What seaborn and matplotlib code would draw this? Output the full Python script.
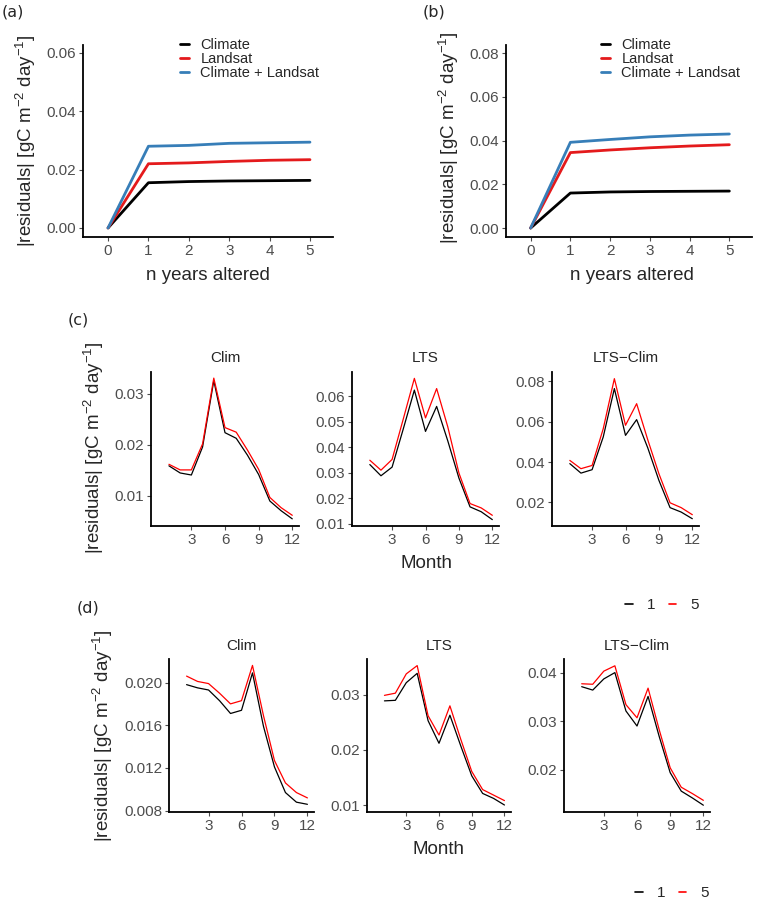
import numpy as np
import pandas as pd
import matplotlib
matplotlib.use('Agg')
import matplotlib.pyplot as plt
from matplotlib.ticker import FormatStrFormatter
import seaborn as sns

# ---- data ----
years = [0, 1, 2, 3, 4, 5]
a_climate = [0.0, 0.0155, 0.0159, 0.0161, 0.0162, 0.0163]
a_landsat = [0.0, 0.0220, 0.0223, 0.0228, 0.0232, 0.0234]
a_both = [0.0, 0.0280, 0.0283, 0.0290, 0.0292, 0.0294]

b_climate = [0.0, 0.0160, 0.0165, 0.0167, 0.0168, 0.0169]
b_landsat = [0.0, 0.0345, 0.0357, 0.0367, 0.0375, 0.0381]
b_both = [0.0, 0.0392, 0.0405, 0.0417, 0.0425, 0.0430]

months = list(range(1, 13))
# panel (c)
c_clim_1 = [0.0159, 0.0145, 0.0141, 0.0196, 0.0326, 0.0224, 0.0213, 0.0180, 0.0142, 0.0090, 0.0071, 0.0055]
c_clim_5 = [0.0162, 0.0151, 0.0151, 0.0202, 0.0331, 0.0234, 0.0225, 0.0190, 0.0152, 0.0097, 0.0077, 0.0062]
c_lts_1 = [0.0332, 0.0288, 0.0322, 0.0471, 0.0624, 0.0462, 0.0560, 0.0425, 0.0279, 0.0166, 0.0147, 0.0116]
c_lts_5 = [0.0349, 0.0310, 0.0352, 0.0510, 0.0670, 0.0515, 0.0630, 0.0480, 0.0299, 0.0179, 0.0162, 0.0133]
c_ltsclim_1 = [0.0392, 0.0345, 0.0362, 0.0524, 0.0764, 0.0532, 0.0610, 0.0470, 0.0309, 0.0174, 0.0152, 0.0119]
c_ltsclim_5 = [0.0408, 0.0367, 0.0383, 0.0565, 0.0813, 0.0582, 0.0689, 0.0510, 0.0342, 0.0198, 0.0174, 0.0139]
# panel (d)
d_clim_1 = [0.0198, 0.0195, 0.0193, 0.0183, 0.0171, 0.0174, 0.0209, 0.0159, 0.0121, 0.0097, 0.0088, 0.0086]
d_clim_5 = [0.0206, 0.0201, 0.0199, 0.0190, 0.0180, 0.0183, 0.0216, 0.0169, 0.0127, 0.0106, 0.0097, 0.0092]
d_lts_1 = [0.0289, 0.0290, 0.0322, 0.0339, 0.0253, 0.0212, 0.0263, 0.0207, 0.0153, 0.0121, 0.0112, 0.0100]
d_lts_5 = [0.0299, 0.0303, 0.0338, 0.0353, 0.0262, 0.0227, 0.0280, 0.0219, 0.0161, 0.0128, 0.0118, 0.0108]
d_ltsclim_1 = [0.0371, 0.0364, 0.0387, 0.0400, 0.0321, 0.0290, 0.0351, 0.0269, 0.0194, 0.0156, 0.0142, 0.0127]
d_ltsclim_5 = [0.0377, 0.0376, 0.0403, 0.0414, 0.0334, 0.0307, 0.0368, 0.0283, 0.0204, 0.0164, 0.0151, 0.0137]

models = ['Climate', 'Landsat', 'Climate + Landsat']
model_colors = {'Climate': 'black', 'Landsat': '#E41A1C', 'Climate + Landsat': '#377EB8'}
yr_colors = {'1': 'black', '5': 'red'}

W, H = 759, 901
sns.set_style('ticks')
plt.rcParams['font.family'] = ['Liberation Sans', 'DejaVu Sans']
plt.rcParams['mathtext.fontset'] = 'custom'
plt.rcParams['mathtext.rm'] = 'Liberation Sans'
plt.rcParams['mathtext.default'] = 'regular'

fig = plt.figure(figsize=(W / 100, H / 100), dpi=100)

def px_axes(l, t, r, b):
    return fig.add_axes([l / W, 1 - b / H, (r - l) / W, (b - t) / H])

def fx(x):
    return x / W

def fy(y):
    return 1 - y / H

def style_axes(ax, lw=1.3, size=11):
    sns.despine(ax=ax)
    for s in ['left', 'bottom']:
        ax.spines[s].set_linewidth(lw)
        ax.spines[s].set_color('black')
    ax.tick_params(axis='both', colors='#4D4D4D', labelsize=size, length=3, width=0.8, pad=2)
    ax.set_xlabel('')
    ax.set_ylabel('')

ylab = r'|residuals| [gC m$^{-2}$ day$^{-1}$]'

# ---- panels (a) and (b) ----
def years_panel(box, series, yticks, ylim, leg_x):
    ax = px_axes(*box)
    df = pd.DataFrame({
        'years': years * 3,
        'value': series[0] + series[1] + series[2],
        'model': sum([[m] * len(years) for m in models], []),
    })
    sns.lineplot(data=df, x='years', y='value', hue='model', hue_order=models,
                 palette=model_colors, linewidth=2, ax=ax)
    style_axes(ax, size=11)
    ax.set_xlim(-0.62, 5.57)
    ax.set_ylim(*ylim)
    ax.set_xticks(years)
    ax.set_yticks(yticks)
    ax.yaxis.set_major_formatter(FormatStrFormatter('%.2f'))
    h, l = ax.get_legend_handles_labels()
    ax.legend(h, l, loc='upper left', bbox_to_anchor=(fx(leg_x), fy(38)),
              bbox_transform=fig.transFigure, frameon=False, fontsize=10.5,
              handlelength=0.6, handletextpad=0.8, labelspacing=0.0,
              borderpad=0, borderaxespad=0)
    return ax

years_panel((83, 45, 333, 237), [a_climate, a_landsat, a_both],
            [0, 0.02, 0.04, 0.06], (-0.0031, 0.0627), 180)
years_panel((506, 45, 752, 237), [b_climate, b_landsat, b_both],
            [0, 0.02, 0.04, 0.06, 0.08], (-0.0041, 0.0837), 601)

fig.text(fx(26), fy(141), ylab, rotation=90, ha='center', va='center', fontsize=13.5)
fig.text(fx(449), fy(138), ylab, rotation=90, ha='center', va='center', fontsize=13.5)
fig.text(fx(208), fy(275), 'n years altered', ha='center', va='center', fontsize=13.5)
fig.text(fx(632), fy(275), 'n years altered', ha='center', va='center', fontsize=13.5)
fig.text(fx(2), fy(12), '(a)', ha='left', va='center', fontsize=11.5, family='DejaVu Sans')
fig.text(fx(423), fy(12), '(b)', ha='left', va='center', fontsize=11.5, family='DejaVu Sans')

# ---- panels (c) and (d) ----
def month_panel(box, v1, v5, yticks, ylim, fmt, title, title_y):
    ax = px_axes(*box)
    df = pd.DataFrame({
        'month': months * 2,
        'value': v1 + v5,
        'n': ['1'] * 12 + ['5'] * 12,
    })
    sns.lineplot(data=df, x='month', y='value', hue='n', palette=yr_colors,
                 linewidth=0.9, legend=False, ax=ax)
    style_axes(ax, size=11)
    ax.set_xlim(-0.6, 12.6)
    ax.set_ylim(*ylim)
    ax.set_xticks([3, 6, 9, 12])
    ax.set_yticks(yticks)
    ax.yaxis.set_major_formatter(FormatStrFormatter(fmt))
    cx = (box[0] + box[2]) / 2
    fig.text(fx(cx), fy(title_y), title, ha='center', va='center', fontsize=11)
    return ax

month_panel((151, 372, 299, 526), c_clim_1, c_clim_5, [0.01, 0.02, 0.03],
            (0.0041, 0.0343), '%.2f', 'Clim', 358)
month_panel((352, 372, 499, 526), c_lts_1, c_lts_5, [0.01, 0.02, 0.03, 0.04, 0.05, 0.06],
            (0.0091, 0.0695), '%.2f', 'LTS', 358)
month_panel((552, 372, 699, 526), c_ltsclim_1, c_ltsclim_5, [0.02, 0.04, 0.06, 0.08],
            (0.0083, 0.0846), '%.2f', 'LTS\u2212Clim', 358)

month_panel((169, 659, 314, 812), d_clim_1, d_clim_5, [0.008, 0.012, 0.016, 0.020],
            (0.00788, 0.0222), '%.3f', 'Clim', 646)
month_panel((367, 659, 511, 812), d_lts_1, d_lts_5, [0.01, 0.02, 0.03],
            (0.00873, 0.0365), '%.2f', 'LTS', 646)
month_panel((564, 659, 710, 812), d_ltsclim_1, d_ltsclim_5, [0.02, 0.03, 0.04],
            (0.0113, 0.0428), '%.2f', 'LTS\u2212Clim', 646)

fig.text(fx(94), fy(448), ylab, rotation=90, ha='center', va='center', fontsize=13.5)
fig.text(fx(103), fy(736), ylab, rotation=90, ha='center', va='center', fontsize=13.5)
fig.text(fx(426), fy(563), 'Month', ha='center', va='center', fontsize=13.5)
fig.text(fx(439), fy(850), 'Month', ha='center', va='center', fontsize=13.5)
fig.text(fx(68), fy(320), '(c)', ha='left', va='center', fontsize=11.5, family='DejaVu Sans')
fig.text(fx(77), fy(608), '(d)', ha='left', va='center', fontsize=11.5, family='DejaVu Sans')

# "- 1 - 5" legends
leg_handles = [plt.Line2D([], [], color=yr_colors[k], linewidth=1.2) for k in ['1', '5']]
for lx, ly in [(625, 605), (635, 893)]:
    fig.legend(leg_handles, ['1', '5'], loc='center left',
               bbox_to_anchor=(fx(lx), fy(ly)), ncol=2, frameon=False, fontsize=11,
               handlelength=0.5, handletextpad=0.9, columnspacing=0.9,
               borderpad=0, borderaxespad=0)

fig.savefig('out.png', dpi=100)
